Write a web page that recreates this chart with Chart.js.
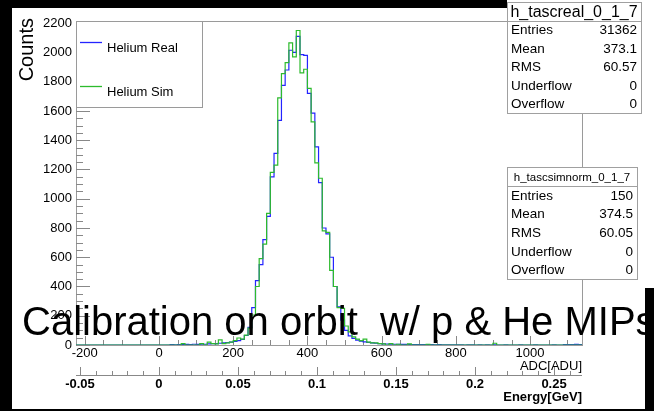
<!DOCTYPE html>
<html>
<head>
<meta charset="utf-8">
<title>TASC calibration - Helium</title>
<script src="https://cdn.jsdelivr.net/npm/chart.js@4.4.3/dist/chart.umd.min.js"></script>
<style>
  html, body { margin: 0; padding: 0; background: #000; }
  #tascChart { display: block; }
</style>
</head>
<body>
<canvas id="tascChart" width="654" height="411"></canvas>
<script>
// histogram bins: 10 ADC wide, first lower edge at -300
const binStart = -300;
const binWidth = 10;

// h_tascreal_0_1_7
const realCounts = [
  0, 0, 0, 0, 0, 0, 0, 0, 0, 0,                         // -300
  0, 0, 0, 0, 0, 0, 0, 0, 0, 0,                         // -200
  0, 0, 0, 0, 0, 0, 0, 0, 0, 0,                         // -100
  0, 0, 0, 0, 2, 1, 3, 2, 4, 3,                         // 0
  5, 4, 6, 5, 8, 10, 9, 12, 14, 16,                     // 100
  20, 24, 30, 38, 65, 120, 255, 440, 550, 720,          // 200
  880, 1150, 1310, 1535, 1775, 1880, 2015, 2000, 2110, 1985, // 300
  1980, 1720, 1585, 1355, 1110, 800, 760, 600, 400, 260,     // 400
  170, 100, 62, 45, 34, 27, 22, 18, 15, 12,             // 500
  10, 8, 7, 6, 5, 5, 4, 4, 3, 3,                        // 600
  3, 2, 2, 2, 2, 1, 2, 1, 1, 1,                         // 700
  1, 1, 1, 0, 1, 1, 0, 1, 0, 1,                         // 800
  0, 1, 0, 0, 1, 0, 0, 0, 1, 0,                         // 900
  0, 0, 1, 0, 0, 0, 0, 1, 0, 0,                         // 1000
  2, 3, 3, 4, 3, 4, 5, 3, 0, 0                          // 1100
];

// h_tascsimnorm_0_1_7
const simCounts = [
  0, 0, 0, 0, 0, 0, 0, 0, 0, 0,
  0, 0, 0, 0, 0, 0, 0, 0, 0, 0,
  0, 0, 0, 0, 0, 0, 0, 0, 0, 0,
  0, 0, 0, 0, 0, 0, 0, 10, 0, 0,
  0, 0, 10, 0, 20, 10, 8, 35, 10, 15,
  20, 30, 48, 40, 68, 116, 205, 400, 590, 690,
  900, 1180, 1230, 1690, 1855, 1930, 2065, 1970, 2150, 1860,
  1885, 1755, 1525, 1245, 1140, 780, 770, 510, 400, 255,
  250, 130, 90, 55, 40, 30, 40, 20, 15, 15,
  10, 8, 0, 10, 0, 5, 0, 0, 8, 0,
  0, 0, 0, 5, 0, 0, 0, 0, 0, 0,
  0, 0, 0, 0, 0, 0, 0, 0, 0, 0,
  0, 12, 0, 0, 0, 0, 0, 0, 0, 0,
  0, 0, 0, 0, 0, 0, 0, 0, 0, 0,
  0, 0, 0, 0, 0, 0, 0, 0, 0, 0
];

const countTicks = [0, 200, 400, 600, 800, 1000, 1200, 1400, 1600, 1800, 2000, 2200];
const adcTicks = [-200, 0, 200, 400, 600, 800, 1000];
const energyTicks = [-0.05, 0, 0.05, 0.1, 0.15, 0.2, 0.25];

const realStats = [['Entries', '31362'], ['Mean', '373.1'], ['RMS', '60.57'], ['Underflow', '0'], ['Overflow', '0']];
const simStats = [['Entries', '150'], ['Mean', '374.5'], ['RMS', '60.05'], ['Underflow', '0'], ['Overflow', '0']];

const titleText = 'Calibration on orbit  w/ p & He MIPs';
const FONT = '"Liberation Sans", Arial, Helvetica, sans-serif';

function toSteps(counts) {
  const pts = counts.map((c, i) => ({ x: binStart + i * binWidth, y: c }));
  pts.push({ x: binStart + counts.length * binWidth, y: counts[counts.length - 1] });
  return pts;
}

function hline(ctx, x1, x2, y) {
  ctx.beginPath(); ctx.moveTo(x1, Math.round(y) + 0.5); ctx.lineTo(x2, Math.round(y) + 0.5); ctx.stroke();
}
function vline(ctx, x, y1, y2) {
  ctx.beginPath(); ctx.moveTo(Math.round(x) + 0.5, y1); ctx.lineTo(Math.round(x) + 0.5, y2); ctx.stroke();
}

function drawStats(ctx, b, title, titleSize, rows) {
  ctx.fillStyle = '#fff';
  ctx.fillRect(b.x, b.y, b.w, b.h);
  ctx.strokeStyle = '#a0a0a0';
  ctx.lineWidth = 1;
  ctx.strokeRect(b.x + 0.5, b.y + 0.5, b.w, b.h);
  const rh = b.h / (rows.length + 1);
  hline(ctx, b.x, b.x + b.w, b.y + rh);
  ctx.fillStyle = '#000';
  ctx.textBaseline = 'middle';
  ctx.textAlign = 'center';
  ctx.font = titleSize + 'px ' + FONT;
  ctx.fillText(title, b.x + b.w / 2, b.y + rh / 2 + 1);
  ctx.font = '13.5px ' + FONT;
  rows.forEach((r, i) => {
    const cy = b.y + rh * (i + 1.5) + 1;
    ctx.textAlign = 'left';
    ctx.fillText(r[0], b.x + 4, cy);
    ctx.textAlign = 'right';
    ctx.fillText(r[1], b.x + b.w - 4, cy);
  });
}

const backdrop = {
  id: 'backdrop',
  beforeDraw(chart) {
    const ctx = chart.ctx;
    ctx.save();
    ctx.fillStyle = '#fff';
    ctx.fillRect(0, 0, chart.width, chart.height);
    ctx.restore();
  }
};

// ROOT style frame, ticks inside the frame, second energy axis below
const rootAxes = {
  id: 'rootAxes',
  beforeDatasetsDraw(chart) {
    const { ctx, chartArea: a, scales: { x, y, e } } = chart;
    ctx.save();
    ctx.strokeStyle = '#9a9a9a';
    ctx.lineWidth = 1;
    ctx.strokeRect(Math.round(a.left) + 0.5, Math.round(a.top) + 0.5, Math.round(a.right - a.left), Math.round(a.bottom - a.top));

    // y ticks
    ctx.strokeStyle = '#888';
    for (let v = 0; v <= y.max; v += 50) {
      const py = y.getPixelForValue(v);
      hline(ctx, a.left, a.left + (v % 200 === 0 ? 14 : 7), py);
    }
    // x (ADC) ticks
    for (let v = -200; v <= x.max; v += 50) {
      const px = x.getPixelForValue(v);
      vline(ctx, px, a.bottom, a.bottom - (v % 200 === 0 ? 9 : 5));
    }
    // energy axis
    const ey = 375;
    hline(ctx, a.left, a.right, ey);
    for (let k = -5; k * 0.01 <= e.max; k++) {
      const px = e.getPixelForValue(k * 0.01);
      vline(ctx, px, ey, ey - (k % 5 === 0 ? 8 : 4));
    }

    ctx.fillStyle = '#000';
    ctx.font = '13px ' + FONT;
    ctx.textBaseline = 'middle';
    ctx.textAlign = 'right';
    countTicks.forEach(v => ctx.fillText(String(v), a.left - 4, y.getPixelForValue(v)));
    ctx.textAlign = 'center';
    adcTicks.forEach(v => ctx.fillText(String(v), x.getPixelForValue(v), 353));
    ctx.textAlign = 'right';
    ctx.fillText('ADC[ADU]', a.right, 366);

    ctx.font = 'bold 13px ' + FONT;
    ctx.textAlign = 'center';
    energyTicks.forEach(v => ctx.fillText(String(v), e.getPixelForValue(v), 384));
    ctx.textAlign = 'right';
    ctx.fillText('Energy[GeV]', a.right, 397);

    // y title
    ctx.save();
    ctx.translate(33, 18);
    ctx.rotate(-Math.PI / 2);
    ctx.font = '20px ' + FONT;
    ctx.textAlign = 'right';
    ctx.textBaseline = 'alphabetic';
    ctx.fillText('Counts', 0, 0);
    ctx.restore();
    ctx.restore();
  },
  afterDraw(chart) {
    const { ctx, chartArea: a } = chart;
    ctx.save();
    // legend
    ctx.fillStyle = '#fff';
    ctx.fillRect(a.left, a.top, 126, 86);
    ctx.strokeStyle = '#9a9a9a';
    ctx.strokeRect(a.left + 0.5, a.top + 0.5, 126, 86);
    ctx.font = '13px ' + FONT;
    ctx.textBaseline = 'middle';
    ctx.textAlign = 'left';
    [[42, 48], [86, 92]].forEach((p, i) => {
      const ds = chart.data.datasets[i];
      ctx.strokeStyle = ds.borderColor;
      ctx.lineWidth = 1.3;
      hline(ctx, 80, 102, p[0]);
      ctx.fillStyle = '#000';
      ctx.fillText(ds.label, 107, p[1]);
    });

    // overlaid slide title
    ctx.font = '40px ' + FONT;
    ctx.fillStyle = '#000';
    ctx.textBaseline = 'alphabetic';
    ctx.textAlign = 'left';
    ctx.fillText(titleText, 22, 335);

    // black slide border around the picture
    ctx.fillStyle = '#000';
    ctx.fillRect(645, 288, 9, 123);
    ctx.fillRect(0, 409, 654, 2);
    ctx.fillRect(0, 0, 12, 411);
    ctx.fillRect(0, 0, 507, 8);

    drawStats(ctx, { x: 507, y: 2, w: 134, h: 111 }, 'h_tascreal_0_1_7', 16, realStats);
    drawStats(ctx, { x: 507, y: 167, w: 130, h: 112 }, 'h_tascsimnorm_0_1_7', 11.5, simStats);
    ctx.restore();
  }
};

new Chart(document.getElementById('tascChart'), {
  type: 'line',
  data: {
    datasets: [
      { label: 'Helium Real', data: toSteps(realCounts), borderColor: '#2424ff', borderWidth: 1.2,
        stepped: 'after', pointRadius: 0, fill: false, order: 2 },
      { label: 'Helium Sim', data: toSteps(simCounts), borderColor: '#2dbb2d', borderWidth: 1.2,
        stepped: 'after', pointRadius: 0, fill: false, order: 1 }
    ]
  },
  options: {
    responsive: false,
    animation: false,
    devicePixelRatio: 1,
    layout: { padding: { left: 76, top: 21, right: 72, bottom: 66 } },
    plugins: { legend: { display: false }, tooltip: { enabled: false } },
    scales: {
      x: { type: 'linear', min: -223.7, max: 1140, display: false },
      e: { type: 'linear', axis: 'x', min: -0.0525, max: 0.2677, display: false },
      y: { type: 'linear', min: 0, max: 2215, display: false }
    }
  },
  plugins: [backdrop, rootAxes]
});
</script>
</body>
</html>
